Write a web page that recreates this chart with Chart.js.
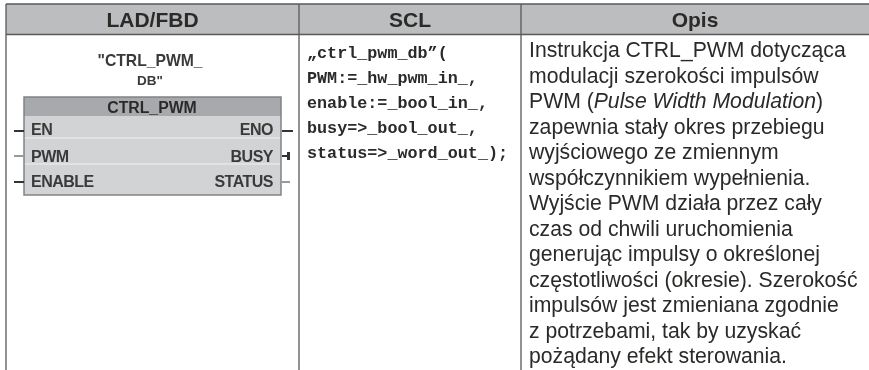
<!DOCTYPE html>
<html>
<head>
<meta charset="utf-8">
<script src="https://cdn.jsdelivr.net/npm/chart.js@4"></script>
<style>
    html, body { margin: 0; padding: 0; background: #fff; }
    #tabela { display: block; }
</style>
</head>
<body>
<canvas id="tabela" width="869" height="370"></canvas>
<script>
const cabecalhos = ['LAD/FBD', 'SCL', 'Opis'];
const nomeBloco = ['"CTRL_PWM_', 'DB"'];
const tituloBloco = 'CTRL_PWM';
const pinosEntrada = ['EN', 'PWM', 'ENABLE'];
const pinosSaida = ['ENO', 'BUSY', 'STATUS'];
const linhasScl = [
    '„ctrl_pwm_db”(',
    'PWM:=_hw_pwm_in_,',
    'enable:=_bool_in_,',
    'busy=>_bool_out_,',
    'status=>_word_out_);'
];
const linhasOpis = [
    'Instrukcja CTRL_PWM dotycząca',
    'modulacji szerokości impulsów',
    'PWM (|Pulse Width Modulation|)',
    'zapewnia stały okres przebiegu',
    'wyjściowego ze zmiennym',
    'współczynnikiem wypełnienia.',
    'Wyjście PWM działa przez cały',
    'czas od chwili uruchomienia',
    'generując impulsy o określonej',
    'częstotliwości (okresie). Szerokość',
    'impulsów jest zmieniana zgodnie',
    'z potrzebami, tak by uzyskać',
    'pożądany efekt sterowania.'
];

// the picture is a table, so the whole thing is painted by one plugin
const tabelaPlugin = {
    id: 'tabelaPlugin',
    afterDraw(chart) {
        const ctx = chart.ctx;
        const colunas = [6, 299, 521, 869];
        const textoCor = '#2b2a29';

        ctx.save();

        // header band
        ctx.fillStyle = '#bcbdbf';
        ctx.fillRect(6, 4, 863, 30);

        // borders
        ctx.strokeStyle = '#58595b';
        ctx.lineWidth = 1.3;
        ctx.beginPath();
        ctx.moveTo(6, 4); ctx.lineTo(869, 4);
        ctx.moveTo(6, 34.5); ctx.lineTo(869, 34.5);
        colunas.slice(0, 3).forEach(function (c) {
            ctx.moveTo(c, 4); ctx.lineTo(c, 370);
        });
        ctx.stroke();

        // headers
        ctx.fillStyle = textoCor;
        ctx.textAlign = 'center';
        ctx.textBaseline = 'alphabetic';
        ctx.font = 'bold 21px "Liberation Sans"';
        cabecalhos.forEach(function (c, i) {
            ctx.fillText(c, (colunas[i] + colunas[i + 1]) / 2, 27);
        });

        // block, the reference is a blurry screenshot here
        ctx.filter = 'blur(0.5px)';
        ctx.font = 'bold 15.7px "Liberation Sans"';
        ctx.fillStyle = '#3a3a3a';
        ctx.fillText(nomeBloco[0], 150, 66);
        ctx.font = 'bold 13.5px "Liberation Sans"';
        ctx.fillText(nomeBloco[1], 150, 85);

        ctx.fillStyle = '#a7a9ac';
        ctx.fillRect(24, 97, 257, 19);
        ctx.fillStyle = '#d1d3d4';
        ctx.fillRect(24, 116, 257, 79);
        ctx.strokeStyle = '#e6e7e8';
        ctx.lineWidth = 1.5;
        ctx.beginPath();
        ctx.moveTo(24, 138); ctx.lineTo(281, 138);
        ctx.moveTo(24, 164); ctx.lineTo(281, 164);
        ctx.stroke();
        ctx.strokeStyle = '#808285';
        ctx.strokeRect(24, 97, 257, 98);

        ctx.fillStyle = '#2b2a29';
        ctx.font = 'bold 15.8px "Liberation Sans"';
        ctx.fillText(tituloBloco, 152, 113);

        ctx.font = 'bold 16px "Liberation Sans"';
        ctx.letterSpacing = '-0.5px';
        const alturas = [135, 162, 187];
        const linhasPino = [131, 156, 182];
        const corEntrada = ['#333', '#999', '#333'];
        const corSaida = ['#333', '#333', '#999'];
        alturas.forEach(function (a, i) {
            ctx.fillStyle = '#3a3a3a';
            ctx.textAlign = 'left';
            ctx.fillText(pinosEntrada[i], 31, a);
            ctx.textAlign = 'right';
            ctx.fillText(pinosSaida[i], 273, a);
            ctx.fillStyle = corEntrada[i];
            ctx.fillRect(14, linhasPino[i] - 1, 10, 2);
            ctx.fillStyle = corSaida[i];
            ctx.fillRect(282, linhasPino[i] - 1, i == 0 ? 11 : 8, 2);
        });
        ctx.letterSpacing = '0px';
        ctx.fillStyle = '#333';
        ctx.fillRect(287, 152, 3, 8);
        ctx.filter = 'none';

        // SCL code
        ctx.textAlign = 'left';
        ctx.fillStyle = textoCor;
        ctx.font = 'bold 16.75px "Liberation Mono"';
        linhasScl.forEach(function (l, i) {
            ctx.fillText(l, 307, 58 + i * 25);
        });

        // description, the | marks the italic part
        linhasOpis.forEach(function (l, i) {
            let px = 529;
            l.split('|').forEach(function (trecho, j) {
                ctx.font = (j == 1 ? 'italic ' : '') + '21.2px "Liberation Sans"';
                ctx.fillText(trecho, px, 57 + i * 25.5);
                px += ctx.measureText(trecho).width;
            });
        });

        ctx.restore();
    }
};

const tabela = new Chart(document.getElementById('tabela').getContext('2d'), {
    type: 'scatter',
    data: { datasets: [] },
    plugins: [tabelaPlugin],
    options: {
        responsive: false,
        animation: false,
        plugins: { legend: { display: false }, tooltip: { enabled: false } },
        scales: {
            x: { display: false },
            y: { display: false }
        }
    }
});
</script>
</body>
</html>
